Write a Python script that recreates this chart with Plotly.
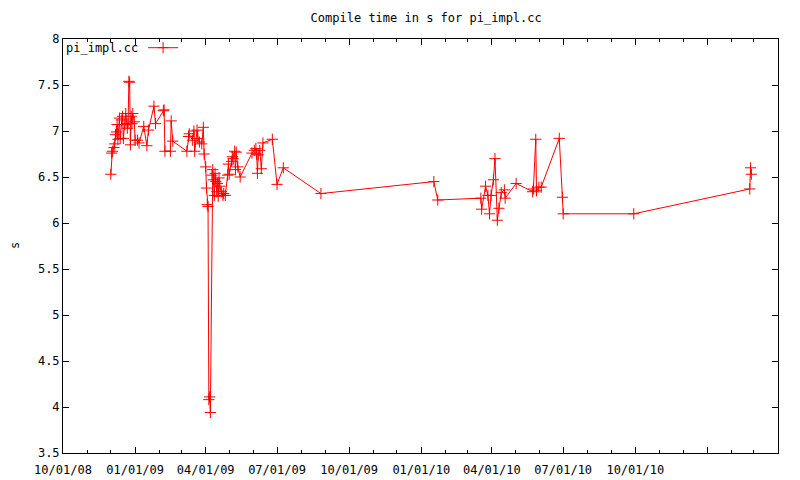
import plotly.graph_objects as go

# build date and compile time (s) for pi_impl.cc
dates = [
    "2008-12-01", "2008-12-02", "2008-12-03", "2008-12-05", "2008-12-06",
    "2008-12-07", "2008-12-08", "2008-12-09", "2008-12-10", "2008-12-12",
    "2008-12-13", "2008-12-15", "2008-12-16", "2008-12-17", "2008-12-19",
    "2008-12-20", "2008-12-22", "2008-12-23", "2008-12-24", "2008-12-25",
    "2008-12-26", "2008-12-27", "2008-12-28", "2008-12-29", "2008-12-31",
    "2009-01-01", "2009-01-04", "2009-01-06", "2009-01-12", "2009-01-16",
    "2009-01-18", "2009-01-25", "2009-01-27", "2009-02-06", "2009-02-07",
    "2009-02-08", "2009-02-15", "2009-02-16", "2009-02-18", "2009-03-08",
    "2009-03-10", "2009-03-11", "2009-03-15", "2009-03-17", "2009-03-18",
    "2009-03-21", "2009-03-22", "2009-03-24", "2009-03-27", "2009-03-29",
    "2009-03-30", "2009-04-01", "2009-04-02", "2009-04-03", "2009-04-04",
    "2009-04-05", "2009-04-06", "2009-04-07", "2009-04-09", "2009-04-10",
    "2009-04-11", "2009-04-12", "2009-04-13", "2009-04-14", "2009-04-15",
    "2009-04-16", "2009-04-17", "2009-04-18", "2009-04-19", "2009-04-21",
    "2009-04-23", "2009-04-24", "2009-04-26", "2009-04-29", "2009-04-30",
    "2009-05-01", "2009-05-04", "2009-05-05", "2009-05-06", "2009-05-08",
    "2009-05-09", "2009-05-10", "2009-05-12", "2009-05-15", "2009-05-30",
    "2009-06-02", "2009-06-04", "2009-06-05", "2009-06-06", "2009-06-07",
    "2009-06-09", "2009-06-11", "2009-06-13", "2009-06-25", "2009-07-01",
    "2009-07-09", "2009-08-26", "2010-01-17", "2010-01-22", "2010-03-18",
    "2010-03-19", "2010-03-24", "2010-03-27", "2010-03-29", "2010-03-31",
    "2010-04-03", "2010-04-05", "2010-04-08", "2010-04-10", "2010-04-13",
    "2010-04-17", "2010-04-18", "2010-05-02", "2010-05-23", "2010-05-24",
    "2010-05-27", "2010-05-28", "2010-05-31", "2010-06-03", "2010-06-26",
    "2010-06-30", "2010-07-01", "2010-09-29", "2011-02-24", "2011-02-25",
    "2011-02-26",
]
seconds = [
    6.53, 6.76, 6.78, 6.82, 6.86,
    6.96, 6.99, 7.07, 6.91, 7.14,
    6.92, 7.12, 7.16, 6.92, 7.07,
    7.19, 7.03, 7.08, 7.54, 7.53,
    6.85, 7.16, 7.08, 7.19, 7.10,
    6.90, 6.90, 6.87, 7.05, 6.84,
    7.01, 7.27, 7.08, 7.22, 7.23,
    6.78, 6.78, 7.11, 6.89, 6.78,
    6.94, 6.97, 6.90, 7.00, 6.78,
    7.01, 6.92, 6.88, 6.86, 7.04,
    6.75, 6.61, 6.38, 6.20, 6.18,
    4.08, 4.11, 3.94, 6.52, 6.58,
    6.47, 6.30, 6.54, 6.45, 6.34,
    6.43, 6.29, 6.49, 6.40, 6.34,
    6.30, 6.32, 6.30, 6.52, 6.64,
    6.53, 6.67, 6.72, 6.70, 6.78,
    6.58, 6.77, 6.61, 6.50, 6.76,
    6.79, 6.81, 6.75, 6.54, 6.74,
    6.79, 6.59, 6.87, 6.91, 6.42,
    6.60, 6.32, 6.45, 6.25, 6.27,
    6.15, 6.40, 6.30, 6.10, 6.30,
    6.47, 6.70, 6.03, 6.16, 6.33,
    6.36, 6.27, 6.43, 6.34, 6.37,
    6.91, 6.35, 6.39, 6.39, 6.92,
    6.28, 6.10, 6.10, 6.37, 6.60,
    6.53,
]

tick_dates = ["2008-10-01", "2009-01-01", "2009-04-01", "2009-07-01",
              "2009-10-01", "2010-01-01", "2010-04-01", "2010-07-01",
              "2010-10-01", "2011-01-01", "2011-04-01"]
tick_labels = ["10/01/08", "01/01/09", "04/01/09", "07/01/09", "10/01/09",
               "01/01/10", "04/01/10", "07/01/10", "10/01/10", "", ""]

FONT = "DejaVu Sans Mono"

fig = go.Figure(go.Scatter(
    x=dates, y=seconds, mode="lines+markers", name=" ",
    line=dict(color="#ff0000", width=1),
    marker=dict(symbol="cross-thin", size=8,
                line=dict(color="#ff0000", width=1)),
))

# page body has an 8px margin, so the figure is a bit smaller than the window
fig.update_layout(
    width=792, height=472,
    paper_bgcolor="white", plot_bgcolor="white",
    margin=dict(l=55, r=22, t=31, b=27, autoexpand=False),
    font=dict(family=FONT, size=11, color="black"),
    title=dict(text="Compile time in s for pi_impl.cc", x=0.528, xanchor="center",
               y=1 - 10 / 472, yanchor="middle", yref="container",
               font=dict(family=FONT, size=12, color="black")),
    showlegend=True,
    legend=dict(x=0.112, y=0.979, xanchor="left", yanchor="middle",
                bgcolor="rgba(0,0,0,0)", itemwidth=30, borderwidth=0,
                font=dict(family=FONT, size=11)),
    annotations=[
        dict(text="pi_impl.cc", x=0.002, y=0.979, xref="paper",
             yref="paper", xanchor="left", yanchor="middle",
             showarrow=False, font=dict(family=FONT, size=12)),
        dict(text="s", x=-0.067, y=0.5, xref="paper", yref="paper",
             xanchor="center", yanchor="middle", textangle=-90,
             showarrow=False, font=dict(family=FONT, size=12)),
    ],
)

fig.update_xaxes(
    type="date", range=["2008-10-01", "2011-04-01"], automargin=False,
    tickmode="array", tickvals=tick_dates, ticktext=tick_labels,
    ticks="inside", ticklen=6, tickcolor="black", ticklabelstandoff=6,
    showline=True, linecolor="black", linewidth=1, mirror="ticks",
    showgrid=False, zeroline=False,
    minor=dict(ticks="inside", ticklen=3, dtick="M1", tick0="2008-10-01",
               tickcolor="black", showgrid=False),
    tickfont=dict(family=FONT, size=12),
)
fig.update_yaxes(
    range=[3.5, 8], dtick=0.5, tick0=3.5, automargin=False,
    ticks="inside", ticklen=6, tickcolor="black",
    showline=True, linecolor="black", linewidth=1, mirror="ticks",
    showgrid=False, zeroline=False,
    tickfont=dict(family=FONT, size=12),
)

fig.write_html("out.html")
